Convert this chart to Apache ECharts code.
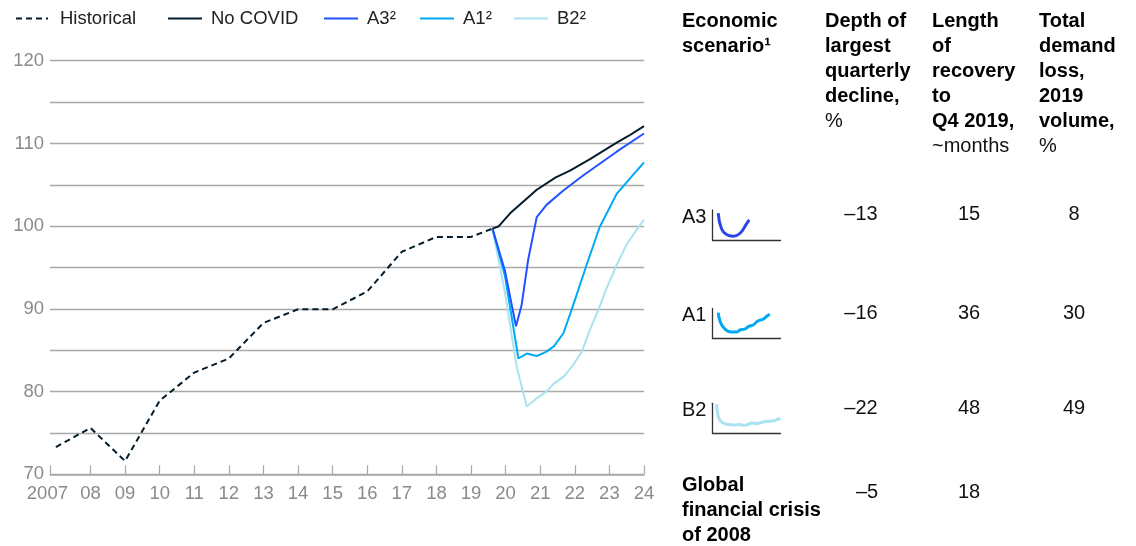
<!DOCTYPE html>
<html><head><meta charset="utf-8">
<script src="https://cdn.jsdelivr.net/npm/echarts@6/dist/echarts.min.js"></script>
<style>html,body{margin:0;padding:0;background:#fff}#c{width:1136px;height:546px}</style>
</head><body><div id="c"></div>
<script>
// ---- chart data ----
const historical = [[2007,73.3],[2008,75.6],[2009,71.6],[2010,78.9],[2011,82.3],[2012,84.0],[2013,88.3],[2014,89.95],[2015,89.95],[2016,92.1],[2017,96.9],[2018,98.7],[2019,98.7],[2019.62,99.7]];
const noCovid = [[2019.62,99.7],[2019.79,99.95],[2020.13,101.55],[2020.9,104.4],[2021.45,105.9],[2021.86,106.7],[2022.44,108.1],[2023.21,110.1],[2023.55,110.9],[2024,112.1]];
const scenA3 = [[2019.62,99.7],[2019.98,94.6],[2020.30,87.9],[2020.46,90.4],[2020.65,95.9],[2020.90,101.1],[2021.19,102.6],[2021.67,104.3],[2022.2,106.0],[2023.21,109.0],[2024,111.2]];
const scenA1 = [[2019.62,99.7],[2019.98,94.0],[2020.37,84.0],[2020.61,84.6],[2020.90,84.3],[2021.17,84.8],[2021.40,85.5],[2021.67,87.05],[2021.91,89.9],[2022.34,95.3],[2022.72,99.9],[2023.21,103.9],[2023.79,106.7],[2024,107.7]];
const scenB2 = [[2019.62,99.7],[2019.98,92.0],[2020.32,83.0],[2020.61,78.2],[2020.90,79.2],[2021.18,80.0],[2021.38,80.9],[2021.70,81.9],[2021.93,83.1],[2022.20,84.8],[2022.44,87.5],[2022.72,90.3],[2022.92,92.5],[2023.21,95.3],[2023.50,97.8],[2023.79,99.6],[2024,100.75]];
const seriesNames = ['Historical','No COVID','A3²','A1²','B2²'];
const yearLabels = [2007,2008,2009,2010,2011,2012,2013,2014,2015,2016,2017,2018,2019,2020,2021,2022,2023,2024];
const yLabelValues = [70,80,90,100,110,120];

// ---- table data ----
const scenarioRows = ['A3','A1','B2'];
const depthDecline = [-13,-16,-22];
const recoveryMonths = [15,36,48];
const demandLoss = [8,30,49];
const gfcValues = [-5,18];
const headScenario = ['Economic','scenario¹'];
const headDepth = ['Depth of','largest','quarterly','decline,'];
const headDepthUnit = ['%'];
const headLength = ['Length','of','recovery','to','Q4 2019,'];
const headLengthUnit = ['~months'];
const headLoss = ['Total','demand','loss,','2019','volume,'];
const headLossUnit = ['%'];
const gfcLabel = ['Global','financial crisis','of 2008'];

// ---- scenario shape icons ----
const iconA3 = [[5.7,27.7],[9,11.7],[14,5.7],[20.7,4],[27.3,6.7],[34,16.7],[36.7,20.7]];
const iconA1 = [[5.7,26.7],[8,16.7],[12.3,10],[19,6.7],[24,6.7],[28,9],[32.3,9.7],[36.7,12.7],[40.7,14],[45.7,18.3],[50.7,20],[54,22.7],[57.3,25]];
const iconB2 = [[4,30],[5.7,18.3],[9,11.7],[15.7,9],[22.3,8.7],[27.3,9],[32.3,8.3],[40,10.7],[44,10],[50.7,11.7],[55.7,12.3],[62.3,13.3],[65.7,14.7],[68,14]];

const FONT = '"Liberation Sans", Arial, sans-serif';
const colors = ['#051c2c','#051c2c','#2251ff','#00a9f4','#a8e3ef'];
const fmtNum = v => (v < 0 ? '\u2013' + Math.abs(v) : String(v));

const chart = echarts.init(document.getElementById('c'));
const X_MIN = 2006.83;

const iconGrids = [
  {left: 712.5, top: 210, width: 68, height: 30},
  {left: 712.5, top: 308.5, width: 68, height: 30},
  {left: 712.5, top: 403.3, width: 68, height: 30}
];
const iconData = [iconA3, iconA1, iconB2];
const iconColors = ['#2a45e6','#00a9f4','#a8e3ef'];

const grids = [{left: 50, right: 492, top: 60.7, bottom: 71.7}].concat(iconGrids);
const xAxes = [{
  type: 'value', gridIndex: 0, min: X_MIN, max: 2024,
  axisLine: {show: true, lineStyle: {color: '#a9a9a9', width: 1.5}},
  axisTick: {show: true, inside: true, length: 9, lineStyle: {color: '#a9a9a9', width: 1.2},
             customValues: [X_MIN].concat(yearLabels.slice(1))},
  axisLabel: {customValues: yearLabels, showMinLabel: true, showMaxLabel: true,
    color: '#8a8a8a', fontSize: 18.5, fontFamily: FONT, margin: 10,
    formatter: v => v === 2007 ? '{f|2007}' : String(v).slice(2),
    rich: {f: {padding: [0, 17, 0, 0], color: '#8a8a8a', fontSize: 18.5, fontFamily: FONT}}},
  splitLine: {show: false}
}];
const yAxes = [{
  type: 'value', gridIndex: 0, min: 70, max: 120, interval: 5,
  axisLine: {show: false}, axisTick: {show: false},
  axisLabel: {color: '#8a8a8a', fontSize: 18.5, fontFamily: FONT, margin: 6,
    formatter: v => yLabelValues.indexOf(v) >= 0 ? String(v) : ''},
  splitLine: {lineStyle: {color: '#a9a9a9', width: 1.3}}
}];
iconGrids.forEach((g, i) => {
  xAxes.push({type: 'value', gridIndex: i + 1, min: 0, max: 68, axisLine: {show: true, lineStyle: {color: '#333', width: 1.3}},
    axisTick: {show: false}, axisLabel: {show: false}, splitLine: {show: false}});
  yAxes.push({type: 'value', gridIndex: i + 1, min: 0, max: 31, axisLine: {show: true, onZero: false, lineStyle: {color: '#333', width: 1.3}},
    axisTick: {show: false}, axisLabel: {show: false}, splitLine: {show: false}});
});

const mainData = [historical, noCovid, scenA3, scenA1, scenB2];
const series = mainData.map((d, i) => ({
  name: seriesNames[i], type: 'line', data: d, symbol: 'none', xAxisIndex: 0, yAxisIndex: 0,
  lineStyle: {color: colors[i], width: 2, type: i === 0 ? [6, 4] : 'solid'},
  itemStyle: {color: colors[i]}, z: 10 - i
}));
iconData.forEach((d, i) => series.push({
  type: 'line', data: d, symbol: 'none', smooth: true, xAxisIndex: i + 1, yAxisIndex: i + 1,
  lineStyle: {color: iconColors[i], width: 3}, silent: true
}));

const legendLefts = [15, 167, 323, 419, 513];
const legends = seriesNames.map((n, i) => ({
  data: [n], left: legendLefts[i], top: 9, padding: 0, itemWidth: i === 0 ? 32 : 34, itemHeight: 14,
  itemStyle: {color: 'rgba(0,0,0,0)', borderColor: 'rgba(0,0,0,0)', borderWidth: 0, opacity: 0},
  textStyle: {fontSize: 18.5, color: '#222', fontFamily: FONT, padding: [0, 0, 0, i === 0 ? 7 : 4]},
  selectedMode: false
}));

const bold = {fontSize: 20, fontWeight: 'bold', fontFamily: FONT, lineHeight: 25, fill: '#000'};
const reg = {fontSize: 20, fontWeight: 'normal', fontFamily: FONT, lineHeight: 25, fill: '#111'};
function richBlock(boldLines, regLines) {
  return boldLines.map(s => '{b|' + s + '}').concat(regLines.map(s => '{r|' + s + '}')).join('\n');
}
function headText(x, y, boldLines, regLines) {
  return {type: 'text', x: x, y: y, style: {text: richBlock(boldLines, regLines),
    rich: {b: bold, r: reg}, fontFamily: FONT, fontSize: 20, lineHeight: 25, fill: '#000'}};
}
function cell(x, y, txt, align) {
  return {type: 'text', x: x, y: y, style: {text: txt, fontSize: 20, fontFamily: FONT, fill: '#111',
    align: align || 'center', verticalAlign: 'middle'}};
}
const rowY = [214, 313, 408];
const rowLabelY = [217, 315, 410];
const colX = [861, 969, 1074];
const graphics = [
  headText(682, 9, headScenario, []),
  headText(825, 9, headDepth, headDepthUnit),
  headText(932, 9, headLength, headLengthUnit),
  headText(1039, 9, headLoss, headLossUnit),
  headText(682, 472.5, gfcLabel, [])
];
scenarioRows.forEach((s, i) => {
  graphics.push(cell(682, rowLabelY[i], s, 'left'));
  graphics.push(cell(colX[0], rowY[i], fmtNum(depthDecline[i])));
  graphics.push(cell(colX[1], rowY[i], fmtNum(recoveryMonths[i])));
  graphics.push(cell(colX[2], rowY[i], fmtNum(demandLoss[i])));
});
graphics.push(cell(867, 492, fmtNum(gfcValues[0])));
graphics.push(cell(colX[1], 492, fmtNum(gfcValues[1])));

chart.setOption({
  animation: false,
  backgroundColor: '#fff',
  textStyle: {fontFamily: FONT},
  legend: legends,
  grid: grids,
  xAxis: xAxes,
  yAxis: yAxes,
  series: series,
  graphic: graphics
});
</script></body></html>
